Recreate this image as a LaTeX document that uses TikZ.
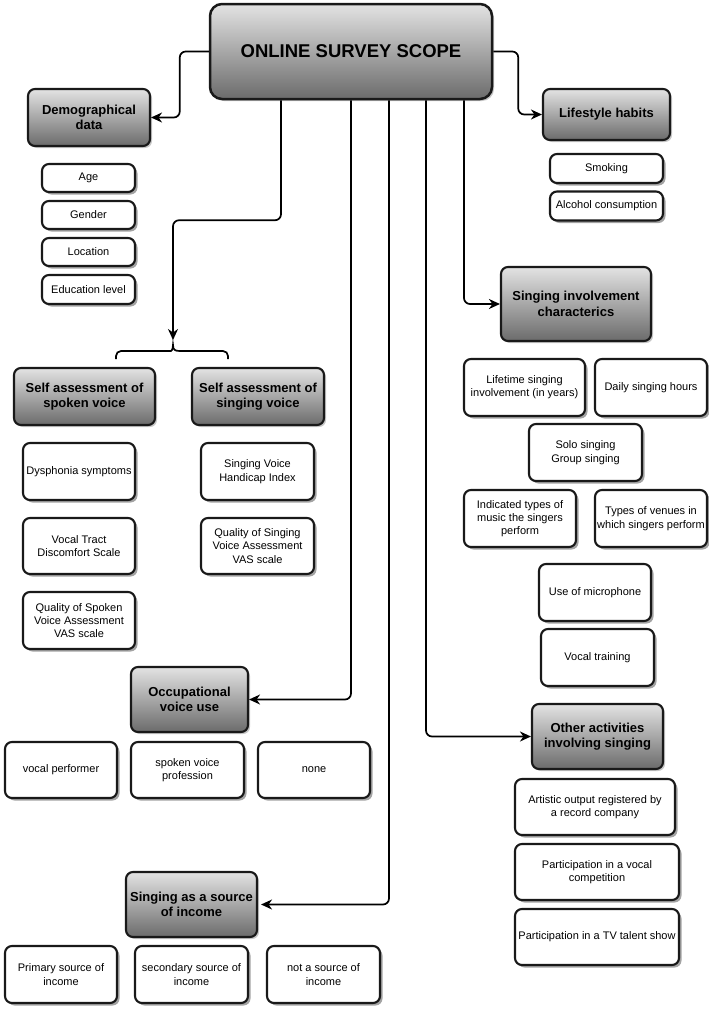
\documentclass[tikz,border=0pt]{standalone}
\usepackage{fontspec}
\setmainfont{Liberation Sans}
\usetikzlibrary{shadows,arrows.meta}
\begin{document}
\begin{tikzpicture}[x=1pt,y=-1pt]
\tikzset{
  sz/.style 2 args={minimum width=#1pt, minimum height=#2pt},
  base/.style={rounded corners=7pt, line width=2.1pt, draw=black!90, align=center, inner sep=1pt},
  leaf/.style={base, fill=white, font=\fontsize{11}{13.3}\selectfont,
    drop shadow={shadow xshift=2.5pt, shadow yshift=-2.5pt, fill=black!60, opacity=0.6}},
  head/.style={base, top color=black!11, bottom color=black!58, font=\fontsize{13}{15.5}\selectfont\bfseries,
    drop shadow={shadow xshift=2pt, shadow yshift=-2pt, fill=black!55, opacity=0.4}},
  conn/.style={line width=1.7pt, rounded corners=6pt, -{Stealth[length=11pt,width=10pt,inset=3.5pt]}},
  bracestyle/.style={line width=1.7pt},
}
\useasboundingbox (0,0) rectangle (709,1009);

% main
\node[head, sz={282}{95}, rounded corners=12pt, line width=2.5pt, font=\fontsize{18.5}{21}\selectfont\bfseries] (main) at (351,51.5) {ONLINE SURVEY SCOPE};

% headers
\node[head, sz={122}{57}] (demo) at (89,117.5) {Demographical\\data};
\node[head, sz={127}{51}] (life) at (606.5,114.5) {Lifestyle habits};
\node[head, sz={141}{57}] (spoken) at (84.5,396.5) {Self assessment of\\spoken voice};
\node[head, sz={132}{57}] (singv) at (258,396.5) {Self assessment of\\singing voice};
\node[head, sz={150}{74}] (sic) at (576,304) {Singing involvement\\characterics};
\node[head, sz={117}{65}] (occ) at (189.5,699.5) {Occupational\\voice use};
\node[head, sz={131}{65}] (income) at (191.5,904.5) {Singing as a source\\of income};
\node[head, sz={131}{65}] (other) at (597.5,736.5) {Other activities\\involving singing};

% demographic leaves
\node[leaf, sz={93}{28}] (age) at (88.5,178) {Age};
\node[leaf, sz={93}{28}] (gender) at (88.5,215) {Gender};
\node[leaf, sz={93}{28}] (location) at (88.5,252) {Location};
\node[leaf, sz={93}{29}] (edu) at (88.5,289.5) {Education level};

% lifestyle leaves
\node[leaf, sz={113}{29}] (smoking) at (606.5,168.5) {Smoking};
\node[leaf, sz={113}{29}] (alcohol) at (606.5,206) {Alcohol consumption};

% spoken voice leaves
\node[leaf, sz={112}{57}] (dys) at (79,471.5) {Dysphonia symptoms};
\node[leaf, sz={112}{56}] (vtd) at (79,546) {Vocal Tract\\Discomfort Scale};
\node[leaf, sz={112}{57}] (qsv) at (79,620.5) {Quality of Spoken\\Voice Assessment\\VAS scale};

% singing voice leaves
\node[leaf, sz={113}{57}] (svhi) at (257.5,471.5) {Singing Voice\\Handicap Index};
\node[leaf, sz={113}{56}] (qsing) at (257.5,546) {Quality of Singing\\Voice Assessment\\VAS scale};

% singing involvement leaves
\node[leaf, sz={121}{57}] (lifetime) at (524.5,387.5) {Lifetime singing\\involvement (in years)};
\node[leaf, sz={112}{57}] (daily) at (651,387.5) {Daily singing hours};
\node[leaf, sz={113}{57}] (solo) at (585.5,452.5) {Solo singing\\Group singing};
\node[leaf, sz={112}{57}] (music) at (520,518.5) {Indicated types of\\music the singers\\perform};
\node[leaf, sz={112}{57}] (venues) at (651,518.5) {Types of venues in\\which singers perform};
\node[leaf, sz={112}{57}] (mic) at (595,592.5) {Use of microphone};
\node[leaf, sz={113}{57}] (training) at (597.5,657.5) {Vocal training};

% occupational leaves
\node[leaf, sz={112}{56}] (vp) at (61,770) {vocal performer};
\node[leaf, sz={113}{56}] (svp) at (187.5,770) {spoken voice\\profession};
\node[leaf, sz={112}{56}] (none) at (314,770) {none};

% income leaves
\node[leaf, sz={112}{57}] (prim) at (61,974.5) {Primary source of\\income};
\node[leaf, sz={113}{57}] (sec) at (191.5,974.5) {secondary source of\\income};
\node[leaf, sz={113}{57}] (notsrc) at (323.5,974.5) {not a source of\\income};

% other activities leaves
\node[leaf, sz={160}{56}] (art) at (595,807) {Artistic output registered by\\a record company};
\node[leaf, sz={164}{56}] (comp) at (597,872) {Participation in a vocal\\competition};
\node[leaf, sz={164}{56}] (tv) at (597,937) {Participation in a TV talent show};

% brace
\coordinate (btop) at (173,340);
\draw[bracestyle] (116,359) [rounded corners=5pt] -- (116,351) -- (166,351) [sharp corners]
  .. controls (171,351) and (173,350) .. (173,345)
  .. controls (173,350) and (175,351) .. (180,351) [rounded corners=5pt] -- (228,351) -- (228,359);

% connectors
\draw[conn] (main.west) -- ++(-29,0) |- (demo.east);
\draw[conn] (main.east) -- ++(25,0) |- (life.west);
\draw[conn] ([xshift=-70pt]main.south) -- ++(0,120) -| (btop);
\draw[conn] (main.south) |- (occ.east);
\draw[conn, shorten >=3pt] ([xshift=38pt]main.south) |- (income.east);
\draw[conn] ([xshift=75pt]main.south) |- (other.west);
\draw[conn] ([xshift=113pt]main.south) |- (sic.west);
\end{tikzpicture}
\end{document}
